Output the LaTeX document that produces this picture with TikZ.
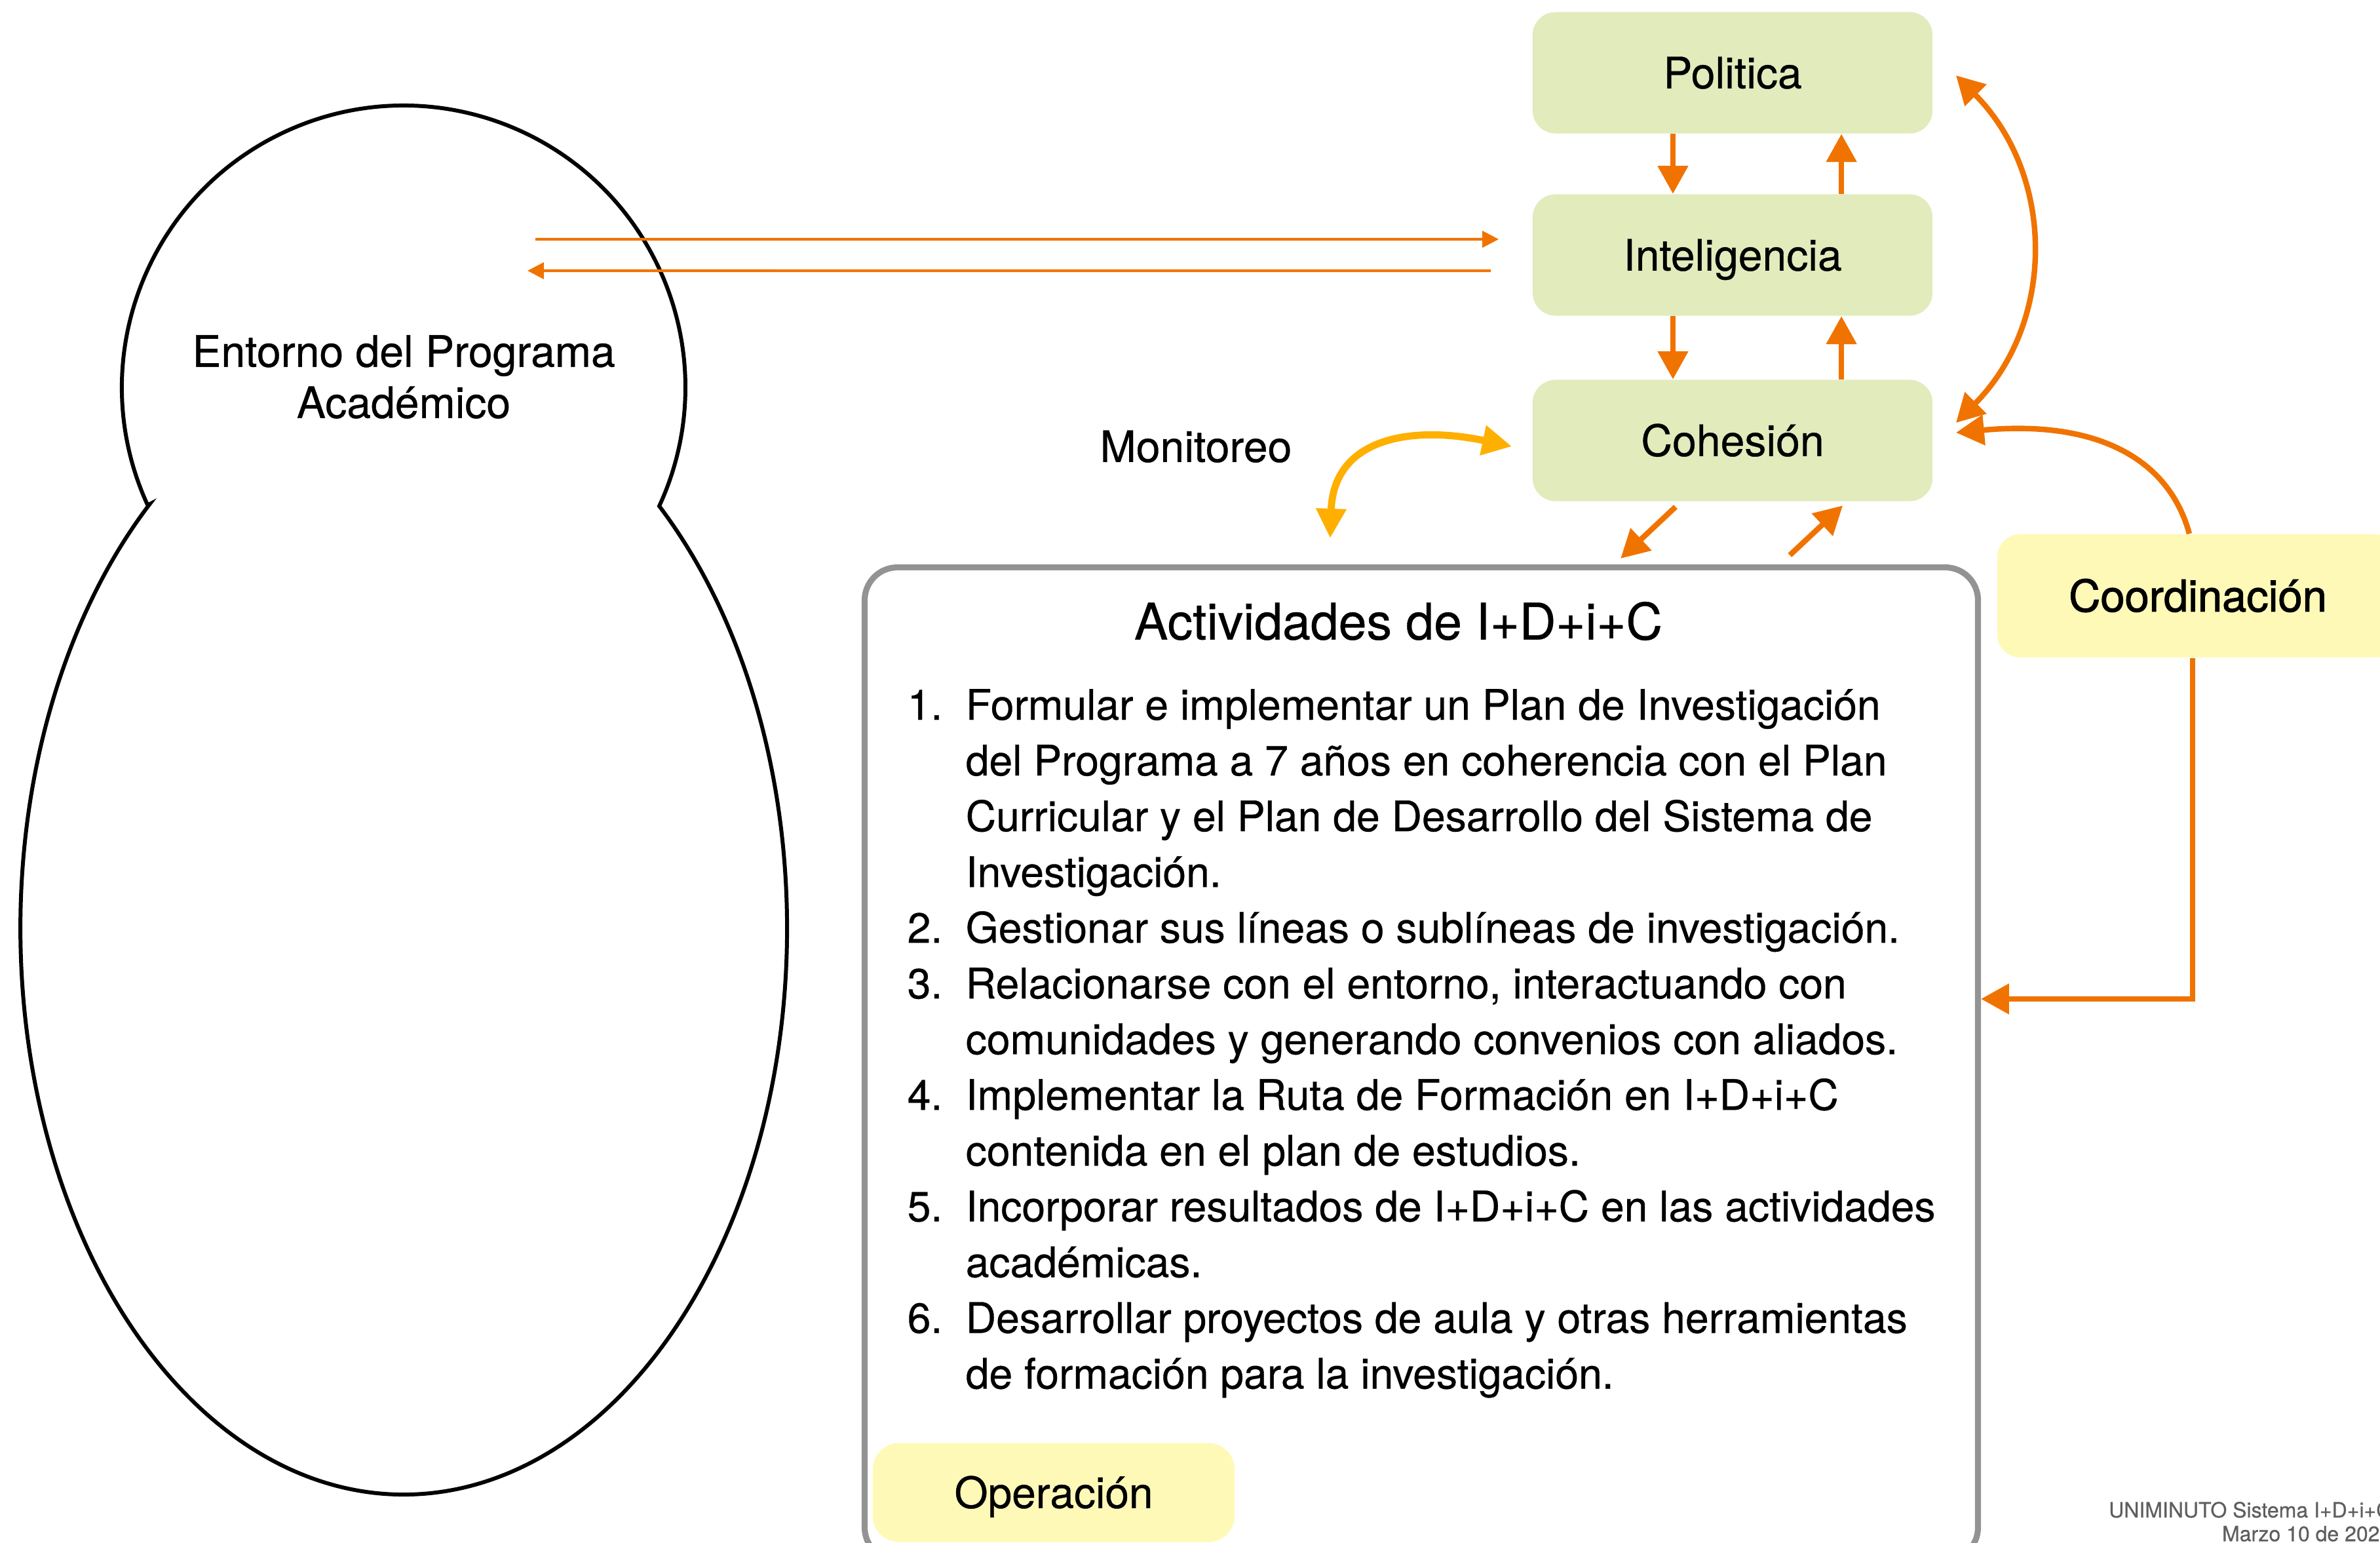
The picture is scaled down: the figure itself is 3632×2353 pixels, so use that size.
\documentclass[tikz,border=0pt]{standalone}
\usepackage{fontspec}
\setmainfont{TeX Gyre Heros}[FakeBold=0.5]
\newfontfamily\coordfont{TeX Gyre Heros}[FakeBold=1.6]
\usetikzlibrary{arrows.meta}
\definecolor{boxgreen}{HTML}{E1EBBC}
\definecolor{boxyellow}{HTML}{FFF9B8}
\definecolor{arrorange}{HTML}{F07300}
\definecolor{arryellow}{HTML}{FFAF00}
\definecolor{bordergray}{HTML}{939393}
\definecolor{footgray}{HTML}{5E5E5E}
\begin{document}
\begin{tikzpicture}[x=0.01cm,y=-0.01cm,
  lbl/.style={font=\fontsize{18.8}{22}\selectfont, text height=13.5pt, text depth=0pt, inner sep=0pt},
  gbox/.style={lbl, fill=boxgreen, rounded corners=0.35cm, minimum width=6.1cm, minimum height=1.85cm},
  ybox/.style={fill=boxyellow, rounded corners=0.35cm, inner sep=0pt, text depth=0pt},
  oarr/.style={draw=arrorange, line width=2.4pt, -{Triangle[length=12.2pt,width=12.8pt]}},
  oarrtwo/.style={draw=arrorange, line width=2.4pt, {Triangle[length=12.2pt,width=12.8pt]}-{Triangle[length=12.2pt,width=12.8pt]}},
  thinarr/.style={draw=arrorange, line width=1.15pt, -{Triangle[length=7.1pt,width=7.1pt]}},
  yarr/.style={draw=arryellow, line width=3.1pt, {Triangle[length=12.8pt,width=12.5pt]}-{Triangle[length=12.8pt,width=12.5pt]}},
]
\useasboundingbox (0,0) rectangle (3632,2353);
\clip (0,0) rectangle (3632,2353);

% Entorno shape
\draw[line width=1.7pt] (616,591) ++(155.3:430) arc[start angle=155.3, end angle=384.9, radius=430]
  arc[start angle=-48.2, end angle=228.5, x radius=585, y radius=864] -- cycle;
\node[font=\fontsize{18.8}{22.2}\selectfont, align=center, inner sep=0pt] (ent) at (616,575) {Entorno del Programa\\Académico};

% green boxes
\node[gbox] (pol) at (2644,111) {Politica};
\node[gbox] (int) at (2644,389) {Inteligencia};
\node[gbox] (coh) at (2644,672) {Cohesión};

% yellow boxes and activities box
\node[ybox, font=\coordfont\fontsize{19}{22}\selectfont, text height=13.6pt, minimum width=6.12cm, minimum height=1.88cm] (coord) at (3354,909) {Coordinación};
\node[draw=bordergray, line width=2.6pt, rounded corners=0.5cm, minimum width=16.98cm, minimum height=15.14cm] (act) at (2169,1623) {};
\node[ybox, font=\fontsize{18.7}{22}\selectfont, text height=13.4pt, minimum width=5.52cm, minimum height=1.51cm, rounded corners=0.4cm] (oper) at (1608,2277) {Operación};

\node[font=\fontsize{21.9}{26}\selectfont, text height=15.7pt, text depth=0pt, inner sep=0pt] (title) at (2134,948) {Actividades de I+D+i+C};
\node[anchor=base west, inner sep=0pt, font=\fontsize{18.27}{24.18}\selectfont] (list) at (1384,1098) {%
\begin{tabular}[t]{@{}p{0.89cm}@{}l@{}}
1. & Formular e implementar un Plan de Investigación\\
   & del Programa a 7 años en coherencia con el Plan\\
   & Curricular y el Plan de Desarrollo del Sistema de\\
   & Investigación.\\
2. & Gestionar sus líneas o sublíneas de investigación.\\
3. & Relacionarse con el entorno, interactuando con\\
   & comunidades y generando convenios con aliados.\\
4. & Implementar la Ruta de Formación en I+D+i+C\\
   & contenida en el plan de estudios.\\
5. & Incorporar resultados de I+D+i+C en las actividades\\
   & académicas.\\
6. & Desarrollar proyectos de aula y otras herramientas\\
   & de formación para la investigación.
\end{tabular}};

\node[lbl] (mon) at (1825,681) {Monitoreo};

\node[anchor=base east, inner sep=0pt, text=footgray, font=\fontsize{9.1}{10.3}\selectfont] (foot) at (3650,2315) {\begin{tabular}[t]{@{}r@{}}UNIMINUTO Sistema I+D+i+C\\Marzo 10 de 2023\end{tabular}};

% connectors
\coordinate (envA) at (817,365);
\coordinate (envB) at (805,413);
\draw[thinarr] (envA) -- ([xshift=-0.51cm,yshift=0.24cm]int.west);
\draw[thinarr] ([xshift=-0.63cm,yshift=-0.24cm]int.west) -- (envB);

\draw[oarr] ([xshift=-0.91cm]pol.south) -- ([xshift=-0.91cm]int.north);
\draw[oarr] ([xshift=1.66cm]int.north) -- ([xshift=1.66cm]pol.south);
\draw[oarr] ([xshift=-0.91cm]int.south) -- ([xshift=-0.91cm]coh.north);
\draw[oarr] ([xshift=1.66cm]coh.north) -- ([xshift=1.66cm]int.south);

\draw[oarr] ([xshift=-0.87cm,yshift=-0.08cm]coh.south) -- ([xshift=3.04cm,yshift=0.09cm]act.north);
\draw[oarr] ([xshift=5.62cm,yshift=0.14cm]act.north) -- ([xshift=1.68cm,yshift=-0.06cm]coh.south);

\draw[oarrtwo] ([xshift=0.35cm,yshift=-0.04cm]pol.east) .. controls (3137,268) and (3137,492) .. ([xshift=0.35cm,yshift=0.27cm]coh.east);
\draw[oarr] ([xshift=-0.13cm]coord.north) .. controls (3310,700) and (3200,640) .. ([xshift=0.35cm,yshift=0.12cm]coh.east);
\draw[oarr] ([xshift=-0.08cm]coord.south) |- ([yshift=0.99cm]act.east);

\draw[yarr] ([xshift=-1.39cm,yshift=0.40cm]act.north) .. controls (2035,670) and (2150,648) .. ([xshift=-0.31cm,yshift=-0.09cm]coh.west);
\end{tikzpicture}
\end{document}
